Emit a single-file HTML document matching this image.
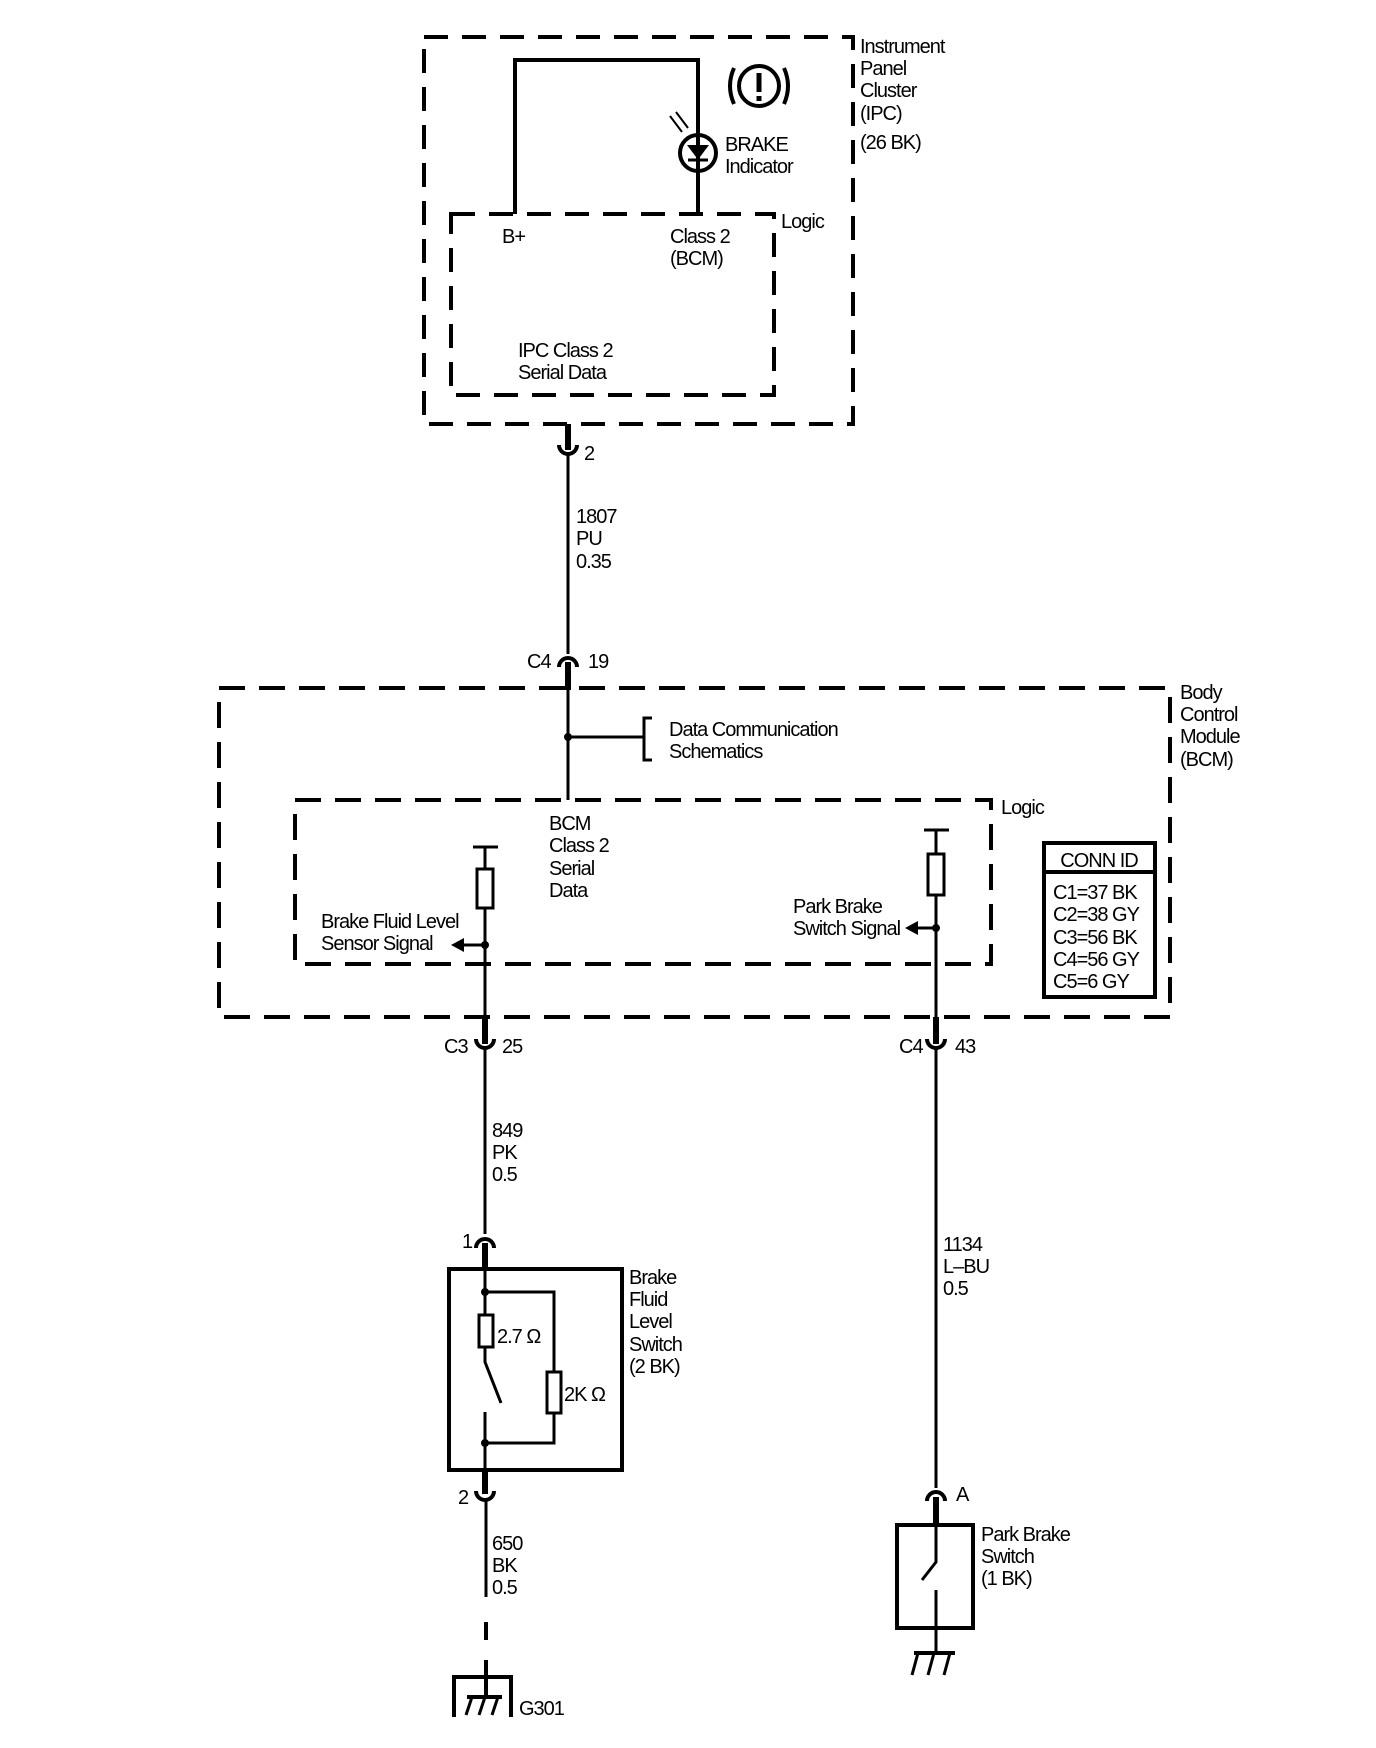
<!DOCTYPE html>
<html><head><meta charset="utf-8"><style>
html,body{margin:0;padding:0;background:#fff}
svg{display:block}
text{font-family:"Liberation Sans Narrow","Liberation Sans",sans-serif;font-size:20px;fill:#000;letter-spacing:-1px}
</style></head><body>
<svg width="1376" height="1748" viewBox="0 0 1376 1748" xmlns="http://www.w3.org/2000/svg">
<g fill="none" stroke="#000">
<rect x="424" y="37" width="429" height="387" stroke-width="4" stroke-dasharray="24,14"/>
<rect x="451" y="214" width="323" height="181" stroke-width="4" stroke-dasharray="24,14"/>
<rect x="219" y="688" width="951" height="329" stroke-width="4" stroke-dasharray="26,14"/>
<rect x="295" y="800" width="696" height="164" stroke-width="4" stroke-dasharray="26,14"/>
<path d="M515,214 V60 H698 V214" stroke-width="4"/>
<circle cx="698" cy="153" r="18" stroke-width="4" fill="#fff"/>
<line x1="698" y1="135" x2="698" y2="171" stroke-width="4"/>
<path d="M689,146 L707,146 L698,158 Z" fill="#000" stroke-width="2"/>
<line x1="688" y1="160" x2="708" y2="160" stroke-width="3"/>
<line x1="670" y1="116" x2="682" y2="132" stroke-width="2"/>
<line x1="676" y1="112" x2="688" y2="128" stroke-width="2"/>
<circle cx="759" cy="86" r="20" stroke-width="4"/>
<path d="M734,68 Q726,86 734,104" stroke-width="4"/>
<path d="M784,68 Q792,86 784,104" stroke-width="4"/>
<line x1="759" y1="73" x2="759" y2="92" stroke-width="5"/>
<line x1="759" y1="96" x2="759" y2="101" stroke-width="5"/>
<line x1="568" y1="424" x2="568" y2="450" stroke-width="6"/>
<path d="M559,445 A9,9 0 0 0 577,445" stroke-width="4"/>
<line x1="568" y1="454" x2="568" y2="654" stroke-width="3"/>
<path d="M559,667 A9,9 0 0 1 577,667" stroke-width="4"/>
<line x1="568" y1="662" x2="568" y2="690" stroke-width="6"/>
<line x1="568" y1="690" x2="568" y2="800" stroke-width="3"/>
<circle cx="568" cy="737" r="3.5" fill="#000"/>
<line x1="568" y1="737" x2="644" y2="737" stroke-width="3"/>
<path d="M652,718 H644 V760 H652" stroke-width="3"/>
<line x1="473" y1="847" x2="498" y2="847" stroke-width="3"/>
<line x1="485" y1="847" x2="485" y2="1020" stroke-width="3"/>
<rect x="477" y="869" width="16" height="39" fill="#fff" stroke-width="3"/>
<circle cx="485" cy="945" r="3.5" fill="#000"/>
<line x1="485" y1="945" x2="462" y2="945" stroke-width="3"/>
<path d="M451,945 L464,938 L464,952 Z" fill="#000" stroke="none"/>
<line x1="924" y1="830" x2="949" y2="830" stroke-width="3"/>
<line x1="936" y1="830" x2="936" y2="1020" stroke-width="3"/>
<rect x="928" y="854" width="16" height="41" fill="#fff" stroke-width="3"/>
<circle cx="936" cy="928" r="3.5" fill="#000"/>
<line x1="936" y1="928" x2="916" y2="928" stroke-width="3"/>
<path d="M905,928 L918,921 L918,935 Z" fill="#000" stroke="none"/>
<rect x="1044" y="843" width="111" height="154" stroke-width="4"/>
<line x1="1044" y1="872" x2="1155" y2="872" stroke-width="4"/>
<line x1="485" y1="1017" x2="485" y2="1044" stroke-width="6"/>
<path d="M476,1039 A9,9 0 0 0 494,1039" stroke-width="4"/>
<line x1="936" y1="1017" x2="936" y2="1044" stroke-width="6"/>
<path d="M927,1039 A9,9 0 0 0 945,1039" stroke-width="4"/>
<line x1="485" y1="1048" x2="485" y2="1234" stroke-width="3"/>
<path d="M476,1248 A9,9 0 0 1 494,1248" stroke-width="4"/>
<line x1="485" y1="1243" x2="485" y2="1269" stroke-width="6"/>
<rect x="449" y="1269" width="173" height="201" stroke-width="4"/>
<path d="M485,1269 V1315 M485,1347 V1362 L501,1403 M485,1412 V1470" stroke-width="3"/>
<rect x="479" y="1315" width="14" height="32" fill="#fff" stroke-width="3"/>
<path d="M485,1292 H554 V1443 H485" stroke-width="3"/>
<rect x="547" y="1372" width="14" height="41" fill="#fff" stroke-width="3"/>
<circle cx="485" cy="1292" r="3.5" fill="#000"/>
<circle cx="485" cy="1443" r="3.5" fill="#000"/>
<line x1="485" y1="1470" x2="485" y2="1494" stroke-width="6"/>
<path d="M476,1491 A9,9 0 0 0 494,1491" stroke-width="4"/>
<line x1="486" y1="1498" x2="486" y2="1597" stroke-width="3"/>
<line x1="486" y1="1622" x2="486" y2="1640" stroke-width="4"/>
<line x1="486" y1="1660" x2="486" y2="1697" stroke-width="4"/>
<path d="M454,1717 V1677 H511 V1717" stroke-width="4"/>
<line x1="467" y1="1697" x2="502" y2="1697" stroke-width="4"/>
<path d="M472,1697 L466,1715 M485,1697 L479,1715 M498,1697 L492,1715" stroke-width="3"/>
<line x1="936" y1="1048" x2="936" y2="1488" stroke-width="3"/>
<path d="M927,1501 A9,9 0 0 1 945,1501" stroke-width="4"/>
<line x1="936" y1="1497" x2="936" y2="1525" stroke-width="6"/>
<rect x="897" y="1525" width="76" height="103" stroke-width="4"/>
<path d="M936,1525 V1562 L922,1580 M936,1590 V1653" stroke-width="3"/>
<line x1="914" y1="1653" x2="955" y2="1653" stroke-width="4"/>
<path d="M918,1653 L912,1675 M934,1653 L928,1675 M950,1653 L944,1675" stroke-width="3"/>
</g>
<g>
<text x="860" y="53">Instrument</text>
<text x="860" y="75">Panel</text>
<text x="860" y="97">Cluster</text>
<text x="860" y="120">(IPC)</text>
<text x="860" y="149">(26 BK)</text>
<text x="725" y="151">BRAKE</text>
<text x="725" y="173">Indicator</text>
<text x="781" y="228">Logic</text>
<text x="502" y="243">B+</text>
<text x="670" y="243">Class 2</text>
<text x="670" y="265">(BCM)</text>
<text x="518" y="357">IPC Class 2</text>
<text x="518" y="379">Serial Data</text>
<text x="584" y="460">2</text>
<text x="576" y="523">1807</text>
<text x="576" y="545">PU</text>
<text x="576" y="568">0.35</text>
<text x="527" y="668">C4</text>
<text x="588" y="668">19</text>
<text x="669" y="736">Data Communication</text>
<text x="669" y="758">Schematics</text>
<text x="1180" y="699">Body</text>
<text x="1180" y="721">Control</text>
<text x="1180" y="743">Module</text>
<text x="1180" y="766">(BCM)</text>
<text x="1001" y="814">Logic</text>
<text x="549" y="830">BCM</text>
<text x="549" y="852">Class 2</text>
<text x="549" y="875">Serial</text>
<text x="549" y="897">Data</text>
<text x="321" y="928">Brake Fluid Level</text>
<text x="321" y="950">Sensor Signal</text>
<text x="793" y="913">Park Brake</text>
<text x="793" y="935">Switch Signal</text>
<text x="1099" y="867" text-anchor="middle">CONN ID</text>
<text x="1053" y="899">C1=37 BK</text>
<text x="1053" y="921">C2=38 GY</text>
<text x="1053" y="944">C3=56 BK</text>
<text x="1053" y="966">C4=56 GY</text>
<text x="1053" y="988">C5=6 GY</text>
<text x="444" y="1053">C3</text>
<text x="502" y="1053">25</text>
<text x="899" y="1053">C4</text>
<text x="955" y="1053">43</text>
<text x="492" y="1137">849</text>
<text x="492" y="1159">PK</text>
<text x="492" y="1181">0.5</text>
<text x="462" y="1248">1</text>
<text x="497" y="1343">2.7 Ω</text>
<text x="564" y="1401">2K Ω</text>
<text x="629" y="1284">Brake</text>
<text x="629" y="1306">Fluid</text>
<text x="629" y="1328">Level</text>
<text x="629" y="1351">Switch</text>
<text x="629" y="1373">(2 BK)</text>
<text x="458" y="1504">2</text>
<text x="492" y="1550">650</text>
<text x="492" y="1572">BK</text>
<text x="492" y="1594">0.5</text>
<text x="943" y="1251">1134</text>
<text x="943" y="1273">L–BU</text>
<text x="943" y="1295">0.5</text>
<text x="956" y="1501">A</text>
<text x="981" y="1541">Park Brake</text>
<text x="981" y="1563">Switch</text>
<text x="981" y="1585">(1 BK)</text>
<text x="519" y="1715">G301</text>
</g>
</svg>
</body></html>
